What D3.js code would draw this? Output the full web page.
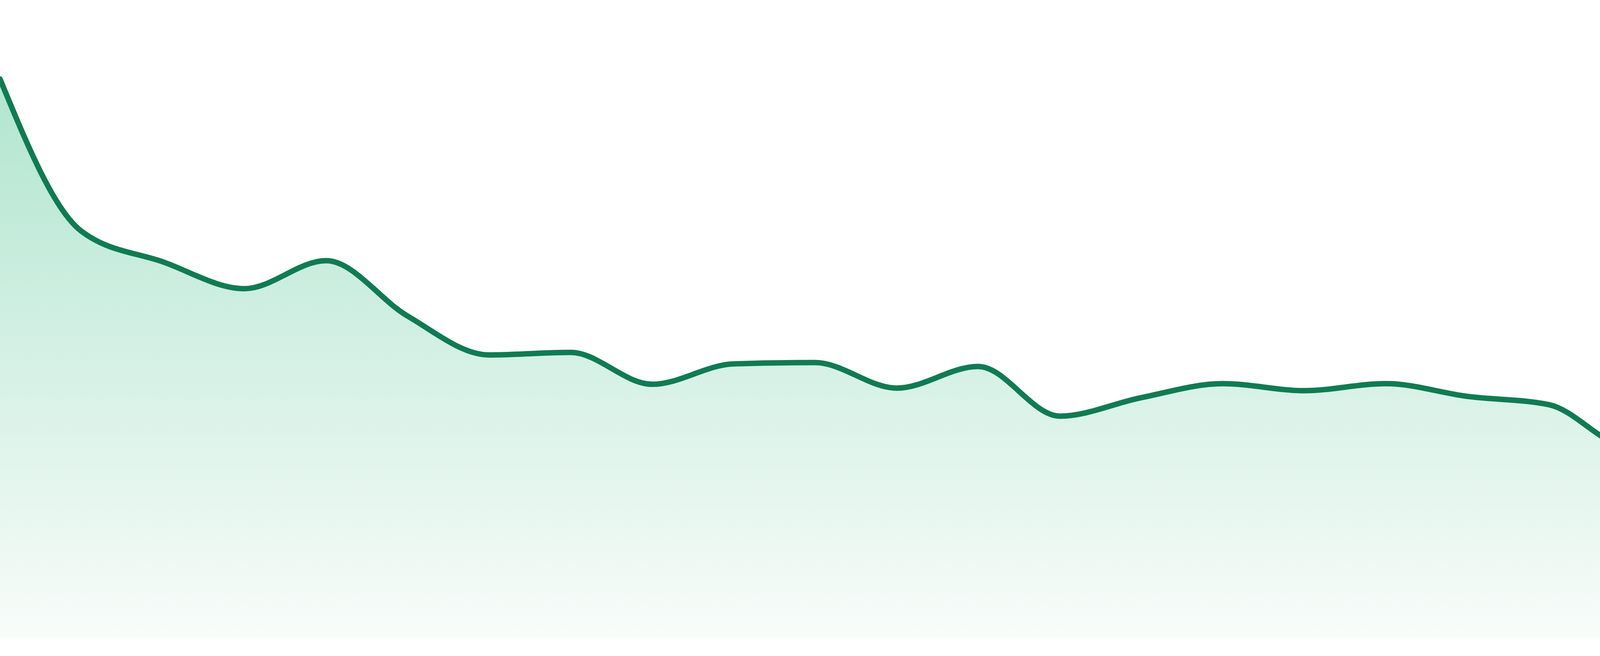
<!DOCTYPE html>
<html>
<head>
<meta charset="utf-8">
<script src="https://cdn.jsdelivr.net/npm/d3@7"></script>
<style>
  html, body { margin: 0; padding: 0; background: #ffffff; }
  svg { display: block; }
</style>
</head>
<body>
<div class="grafico"></div>
<script>
// datos (24 puntos)
var categorias = d3.range(1, 25).map(function(i) { return "P" + i; });
var valores = [87.6, 63.7, 58.9, 54.7, 59.1, 50.4, 44.3, 44.7, 39.7, 42.9, 43.1, 39.1,
               42.5, 34.7, 37.6, 39.8, 38.7, 39.8, 37.8, 36.5, 29.8, 32.0, 29.7, 27.7];
var dominioY = [0, 100];

var ancho = 4800, alto = 1680;
var fondo = 1632; // base del area

var svg = d3.select(".grafico").append("svg")
    .attr("width", ancho)
    .attr("height", alto);

// escalas
var x = d3.scalePoint()
    .domain(categorias)
    .range([0, ancho]);

var y = d3.scaleLinear()
    .domain(dominioY)
    .range([fondo, 0]);

var datos = categorias.map(function(c, i) { return { cat: c, v: valores[i] }; });

// degradado del relleno
var grad = svg.append("defs").append("linearGradient")
    .attr("id", "relleno")
    .attr("gradientUnits", "userSpaceOnUse")
    .attr("x1", 0).attr("x2", 0)
    .attr("y1", y(d3.max(valores))).attr("y2", fondo);
grad.append("stop").attr("offset", 0).attr("stop-color", "#b1e5cf");
grad.append("stop").attr("offset", 1).attr("stop-color", "#f8fcfa");

var area = d3.area()
    .x(function(d) { return x(d.cat); })
    .y0(fondo)
    .y1(function(d) { return y(d.v); })
    .curve(d3.curveMonotoneX);

var linea = d3.line()
    .x(function(d) { return x(d.cat); })
    .y(function(d) { return y(d.v); })
    .curve(d3.curveMonotoneX);

svg.append("path")
    .datum(datos)
    .attr("d", area)
    .attr("fill", "url(#relleno)");

svg.append("path")
    .datum(datos)
    .attr("d", linea)
    .attr("fill", "none")
    .attr("stroke", "#107b52")
    .attr("stroke-width", 14)
    .attr("stroke-linecap", "round")
    .attr("stroke-linejoin", "round");
</script>
</body>
</html>
